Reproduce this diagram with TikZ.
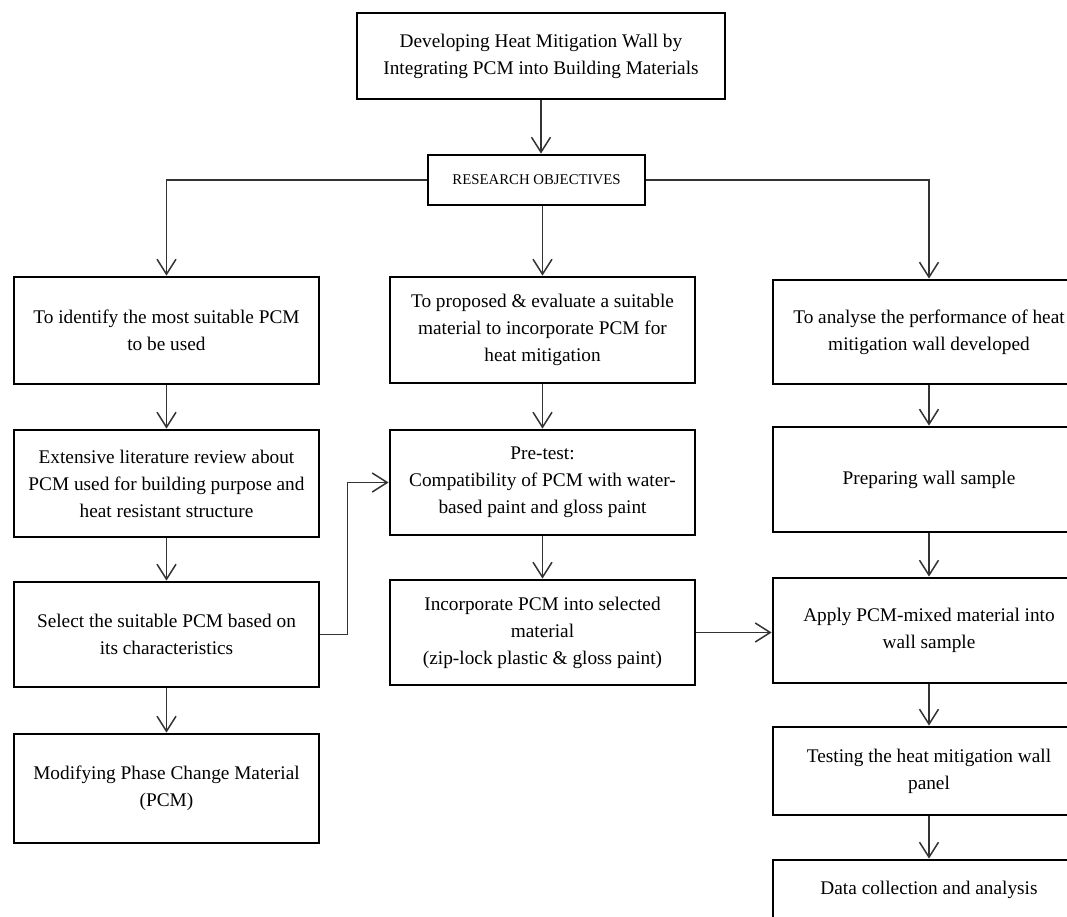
\documentclass[tikz,border=0pt]{standalone}
\usepackage{fontspec}
\setmainfont{Liberation Serif}
\usepackage{tikz}
\usetikzlibrary{arrows.meta,calc,positioning}

\begin{document}
\begin{tikzpicture}[x=1pt,y=-1pt,>={Straight Barb[length=15pt,width=19pt,line width=1.5pt]},
  font=\fontsize{19.3}{27}\selectfont,
  box/.style={draw,line width=2.8pt,minimum width=305pt,inner sep=0pt,align=center},
  arr/.style={->,line width=1.5pt,black!80}]
\clip (0,0) rectangle (1067,917);
\fill[white] (0,0) rectangle (1067,917);
% title and objectives
\node[box,minimum width=368pt,minimum height=86pt] (title) at (541,56) {Developing Heat Mitigation Wall by\\ Integrating PCM into Building Materials};
\node[box,minimum width=217pt,minimum height=50pt,font=\fontsize{14.8}{16}\selectfont] (obj) at (536.5,180) {RESEARCH OBJECTIVES};
% left column
\node[box,minimum height=107pt] (ident) at (166.5,330.5) {To identify the most suitable PCM\\ to be used};
\node[box,minimum height=107pt] (review) at (166.5,483.5) {Extensive literature review about\\ PCM used for building purpose and\\ heat resistant structure};
\node[box,minimum height=105pt] (select) at (166.5,634.5) {Select the suitable PCM based on\\ its characteristics};
\node[box,minimum height=109pt] (modify) at (166.5,788.5) {Modifying Phase Change Material\\ (PCM)};
% middle column
\node[box,minimum height=106pt] (propose) at (542.5,330) {To proposed \& evaluate a suitable\\ material to incorporate PCM for\\ heat mitigation};
\node[box,minimum height=105pt] (pretest) at (542.5,482.5) {Pre-test:\\ Compatibility of PCM with water-\\ based paint and gloss paint};
\node[box,minimum height=105pt] (incorp) at (542.5,632.5) {Incorporate PCM into selected\\ material\\ (zip-lock plastic \& gloss paint)};
% right column (runs off the page)
\node[box,minimum width=312pt,minimum height=104pt] (analyse) at (929,332) {To analyse the performance of heat\\ mitigation wall developed};
\node[box,minimum width=312pt,minimum height=105pt] (prepare) at (929,479.5) {Preparing wall sample};
\node[box,minimum width=312pt,minimum height=105pt] (apply) at (929,630.5) {Apply PCM-mixed material into\\ wall sample};
\node[box,minimum width=312pt,minimum height=88pt] (test) at (929,771) {Testing the heat mitigation wall\\ panel};
\node[box,minimum width=312pt,minimum height=60pt] (data) at (929,890) {Data collection and analysis};
% connectors
\draw[arr] (title.south) -- (title.south |- obj.north);
\draw[arr] (obj.west) -| (ident.north);
\draw[arr] (obj.south -| propose.north) -- (propose.north);
\draw[arr] (obj.east) -| (analyse.north);
\draw[arr] (ident) -- (review);
\draw[arr] (review) -- (select);
\draw[arr] (select) -- (modify);
\draw[arr] (select.east) -- ++(27,0) |- (pretest.west);
\draw[arr] (propose) -- (pretest);
\draw[arr] (pretest) -- (incorp);
\draw[arr] (incorp.east) -- (incorp.east -| apply.west);
\draw[arr] (analyse) -- (prepare);
\draw[arr] (prepare) -- (apply);
\draw[arr] (apply) -- (test);
\draw[arr] (test) -- (data);
\end{tikzpicture}
\end{document}
